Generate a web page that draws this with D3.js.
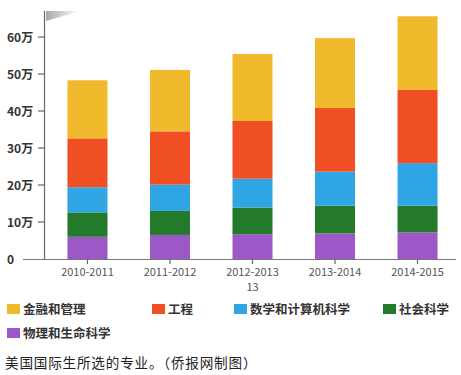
<!DOCTYPE html>
<html>
<head>
<meta charset="utf-8">
<script src="https://cdn.jsdelivr.net/npm/d3@7"></script>
<style>
  body { margin: 0; background: #fff; }
  svg text { font-family: "Noto Sans CJK SC", "Noto Sans", sans-serif; }
</style>
</head>
<body>
<svg id="chart" width="461" height="375"></svg>
<script>
// academic years on the x axis
var years = ['2010-2011', '2011-2012', '2012-2013', '2013-2014', '2014-2015'];
// series, bottom to top (values in 万 students)
var seriesNames = ['物理和生命科学', '社会科学', '数学和计算机科学', '工程', '金融和管理'];
var physLife = [6.0, 6.5, 6.7, 6.9, 7.2];
var social = [6.6, 6.5, 7.2, 7.5, 7.2];
var mathCs = [6.8, 7.1, 7.8, 9.2, 11.5];
var engineering = [13.2, 14.4, 15.6, 17.2, 19.8];
var finance = [15.7, 16.6, 18.1, 18.9, 19.9];
var yTicks = [0, 10, 20, 30, 40, 50, 60];
// legend order as in the picture
var legendOrder = ['金融和管理', '工程', '数学和计算机科学', '社会科学', '物理和生命科学'];
var colors = {
    '金融和管理': '#f1ba2c',
    '工程': '#f04f24',
    '数学和计算机科学': '#2fa5e3',
    '社会科学': '#237a2a',
    '物理和生命科学': '#9b58c6'
};

var svg = d3.select('#chart');

var x = d3.scaleBand().domain(years).range([46, 459]).paddingInner(0.515).paddingOuter(0.26);
var y = d3.scaleLinear().domain([0, 60]).range([259, 37]);

var table = years.map(function(yr, i) {
    return {year: yr, '物理和生命科学': physLife[i], '社会科学': social[i],
            '数学和计算机科学': mathCs[i], '工程': engineering[i], '金融和管理': finance[i]};
});
var stacked = d3.stack().keys(seriesNames)(table);

// page curl shadow in the top-left corner
var grad = svg.append('defs').append('linearGradient').attr('id', 'shade')
        .attr('x1', 0).attr('y1', 0).attr('x2', 1).attr('y2', 0);
grad.append('stop').attr('offset', 0).attr('stop-color', '#a8a8a8');
grad.append('stop').attr('offset', 1).attr('stop-color', '#ffffff');
svg.append('path').attr('d', 'M46,11 L80,11 L46,21 Z').attr('fill', 'url(#shade)');

// bars
svg.selectAll('.layer').data(stacked).enter()
        .append('g')
        .attr('class', 'layer')
        .attr('fill', function(d) { return colors[d.key]; })
        .selectAll('rect').data(function(d) { return d; }).enter()
        .append('rect')
        .attr('x', function(d) { return x(d.data.year); })
        .attr('width', x.bandwidth())
        .attr('y', function(d) { return y(d[1]); })
        .attr('height', function(d) { return y(d[0]) - y(d[1]); });

// y axis
svg.append('line').attr('x1', 44.5).attr('x2', 44.5).attr('y1', 11).attr('y2', 259)
        .attr('stroke', '#666').attr('stroke-width', 1.2);
svg.selectAll('.y-tick').data(yTicks.slice(1)).enter()
        .append('line')
        .attr('x1', 38).attr('x2', 44)
        .attr('y1', function(d) { return y(d); })
        .attr('y2', function(d) { return y(d); })
        .attr('stroke', '#666').attr('stroke-width', 1.2);
svg.selectAll('.y-label').data(yTicks).enter()
        .append('text')
        .text(function(d) { return d === 0 ? '0' : d + '万'; })
        .attr('x', 7)
        .attr('y', function(d) { return y(d) + 4.5; })
        .attr('font-size', '12px')
        .attr('font-weight', 'bold')
        .attr('fill', '#333');

// x axis
svg.append('line').attr('x1', 23).attr('x2', 456).attr('y1', 259.5).attr('y2', 259.5)
        .attr('stroke', '#777').attr('stroke-width', 1.2);
svg.selectAll('.x-tick').data(years).enter()
        .append('line')
        .attr('x1', function(d) { return x(d) + x.bandwidth() / 2; })
        .attr('x2', function(d) { return x(d) + x.bandwidth() / 2; })
        .attr('y1', 259).attr('y2', 264)
        .attr('stroke', '#666').attr('stroke-width', 1.2);
svg.selectAll('.x-label').data(years).enter()
        .append('text')
        .text(function(d) { return d; })
        .attr('x', function(d) { return x(d) + x.bandwidth() / 2; })
        .attr('y', 276)
        .attr('text-anchor', 'middle')
        .attr('font-size', '11px')
        .attr('fill', '#555');
// the wrapped tail under the middle label
svg.append('text').text('13')
        .attr('x', x(years[2]) + x.bandwidth() / 2)
        .attr('y', 291)
        .attr('text-anchor', 'middle')
        .attr('font-size', '11px')
        .attr('fill', '#555');

// legend
var legendPos = [[7, 309], [152, 309], [234, 309], [383, 309], [7, 333]];
var legend = svg.selectAll('.legend').data(legendOrder).enter()
        .append('g')
        .attr('class', 'legend')
        .attr('transform', function(d, i) { return 'translate(' + legendPos[i][0] + ',' + legendPos[i][1] + ')'; });
legend.append('rect')
        .attr('x', 0).attr('y', -5)
        .attr('width', 13).attr('height', 10)
        .attr('fill', function(d) { return colors[d]; });
legend.append('text')
        .text(function(d) { return d; })
        .attr('x', 16).attr('y', 5)
        .attr('font-size', '12.5px')
        .attr('font-weight', 'bold')
        .attr('fill', '#333');

// caption
svg.append('text').text('美国国际生所选的专业。（侨报网制图）')
        .attr('x', 5).attr('y', 368)
        .attr('font-size', '13.6px')
        .attr('letter-spacing', '0.8px')
        .attr('fill', '#222');
</script>
</body>
</html>
